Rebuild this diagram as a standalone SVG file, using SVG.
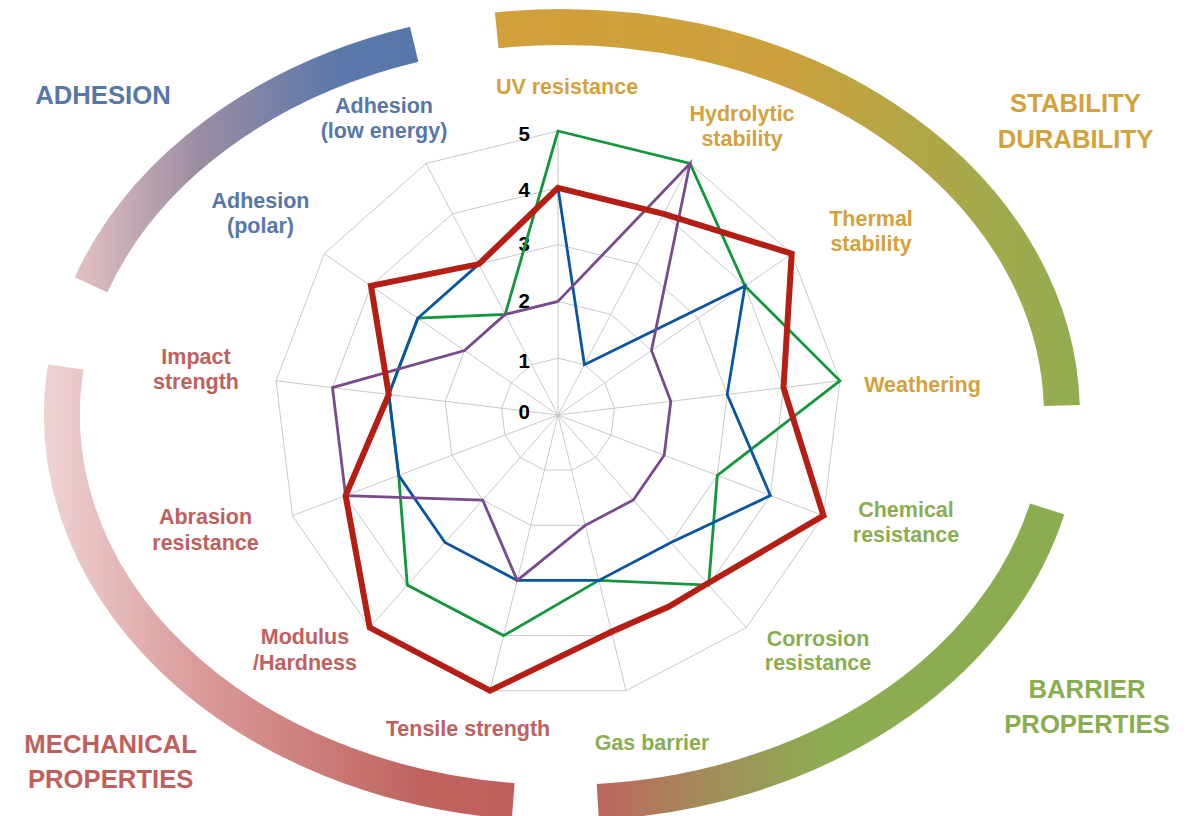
<svg xmlns="http://www.w3.org/2000/svg" width="1195" height="816" viewBox="0 0 1195 816">
<defs>
<style>
text{font-family:"Liberation Sans",Arial,sans-serif;font-weight:bold;}
.lab{font-size:21.5px;text-anchor:middle;}
.cat{font-size:25.7px;text-anchor:middle;}
.tick{font-size:20.5px;text-anchor:end;fill:#000;}
.blue{fill:#5777a9;}
.gold{fill:#d4a23c;}
.green{fill:#8aad52;}
.red{fill:#c0605e;}
.grid{fill:none;stroke:#c9c9c9;stroke-width:1;}
.arc{fill:none;stroke-width:36;stroke-linecap:butt;}
.s{fill:none;stroke-linejoin:miter;stroke-width:2.8;}
</style>
<linearGradient id="gAdh" gradientUnits="userSpaceOnUse" x1="72" y1="0" x2="420" y2="0">
<stop offset="0" stop-color="#e6c3c3"/>
<stop offset="0.37" stop-color="#9b8ca3"/>
<stop offset="0.74" stop-color="#5d79ab"/>
<stop offset="1" stop-color="#5677aa"/>
</linearGradient>
<linearGradient id="gStab" gradientUnits="userSpaceOnUse" x1="494" y1="0" x2="1080" y2="0">
<stop offset="0" stop-color="#d1a03a"/>
<stop offset="0.49" stop-color="#cca13c"/>
<stop offset="1" stop-color="#91ad52"/>
</linearGradient>
<linearGradient id="gBar" gradientUnits="userSpaceOnUse" x1="597" y1="0" x2="1065" y2="0">
<stop offset="0" stop-color="#bd655d"/>
<stop offset="0.22" stop-color="#a58a5a"/>
<stop offset="0.48" stop-color="#8cac52"/>
<stop offset="1" stop-color="#8aad50"/>
</linearGradient>
<linearGradient id="gMech" gradientUnits="userSpaceOnUse" x1="47" y1="0" x2="530" y2="0">
<stop offset="0" stop-color="#eed2d2"/>
<stop offset="0.32" stop-color="#d99a98"/>
<stop offset="0.77" stop-color="#c0635f"/>
<stop offset="1" stop-color="#bf5f5b"/>
</linearGradient>
</defs>
<rect width="1195" height="816" fill="#ffffff"/>

<g id="arcs">
<path id="arc-adhesion" class="arc" stroke="url(#gAdh)" d="M 91.0 284.8 A 500 388 0 0 1 414.2 44.3"/>
<path id="arc-stability" class="arc" stroke="url(#gStab)" d="M 496.7 30.3 A 500 388 0 0 1 1061.8 405.5"/>
<path id="arc-barrier" class="arc" stroke="url(#gBar)" d="M 1047.1 508.9 A 500 388 0 0 1 597.8 802.0"/>
<path id="arc-mechanical" class="arc" stroke="url(#gMech)" d="M 513.2 801.1 A 500 388 0 0 1 65.8 367.0"/>
</g>

<g id="grid">
<polygon class="grid" points="558,358.2 584.4,364.7 604.7,382.7 614.4,408.2 611.1,435.1 595.7,457.5 571.6,470.1 544.4,470.1 520.3,457.5 504.9,435.1 501.6,408.2 511.3,382.7 531.6,364.7"/>
<polygon class="grid" points="558,301.4 610.8,314.4 651.5,350.5 670.8,401.3 664.2,455.3 633.3,500.0 585.2,525.3 530.8,525.3 482.7,500.0 451.8,455.3 445.2,401.3 464.5,350.5 505.2,314.4"/>
<polygon class="grid" points="558,244.6 637.2,264.1 698.2,318.2 727.2,394.5 717.3,475.4 671.0,542.5 598.8,580.4 517.2,580.4 445.0,542.5 398.7,475.4 388.8,394.5 417.8,318.2 478.8,264.1"/>
<polygon class="grid" points="558,187.8 663.6,213.8 745.0,285.9 783.5,387.6 770.4,495.6 708.7,585.1 612.4,635.6 503.6,635.6 407.3,585.1 345.6,495.6 332.5,387.6 371.0,285.9 452.4,213.8"/>
<polygon class="grid" points="558,131.0 690.0,163.5 791.7,253.7 839.9,380.8 823.5,515.7 746.3,627.6 626.0,690.7 490.0,690.7 369.7,627.6 292.5,515.7 276.1,380.8 324.3,253.7 426.0,163.5"/>
<path class="grid" d="M558 415L558 131.0M558 415L690.0 163.5M558 415L791.7 253.7M558 415L839.9 380.8M558 415L823.5 515.7M558 415L746.3 627.6M558 415L626.0 690.7M558 415L490.0 690.7M558 415L369.7 627.6M558 415L292.5 515.7M558 415L276.1 380.8M558 415L324.3 253.7M558 415L426.0 163.5"/>
</g>

<g id="ticks">
<text class="tick" x="530" y="419">0</text>
<text class="tick" x="530" y="368">1</text>
<text class="tick" x="530" y="308">2</text>
<text class="tick" x="530" y="251">3</text>
<text class="tick" x="530" y="197">4</text>
<text class="tick" x="530" y="141">5</text>
</g>

<g id="series">
<polygon id="series-green" class="s" stroke="#13963c" points="558,131.0 690.0,163.5 745.0,285.9 839.9,380.8 717.3,475.4 708.7,585.1 598.8,580.4 503.6,635.6 407.3,585.1 398.7,475.4 388.8,394.5 417.8,318.2 505.2,314.4"/>
<polygon id="series-blue" class="s" stroke="#0a55a0" points="558,187.8 584.4,364.7 745.0,285.9 727.2,394.5 770.4,495.6 671.0,542.5 598.8,580.4 517.2,580.4 445.0,542.5 398.7,475.4 388.8,394.5 417.8,318.2 478.8,264.1"/>
<polygon id="series-purple" class="s" stroke="#784b8c" points="558,301.4 690.0,163.5 651.5,350.5 670.8,401.3 664.2,455.3 633.3,500.0 585.2,525.3 517.2,580.4 482.7,500.0 345.6,495.6 332.5,387.6 464.5,350.5 505.2,314.4"/>
<polygon id="series-red" class="s" stroke="#b41e14" style="stroke-width:6" points="558,187.8 663.6,213.8 791.7,253.7 783.5,387.6 823.5,515.7 707.5,583.5 669,606.5 612,631.5 490.0,690.7 369.7,627.6 345.6,495.6 388.8,394.5 371.0,285.9 478.8,264.1"/>
</g>

<g id="axis-labels">
<g id="lbl-uv"><text class="lab gold" x="567" y="94">UV resistance</text></g>
<g id="lbl-hydro"><text class="lab gold" x="742" y="120.5">Hydrolytic</text><text class="lab gold" x="742" y="146">stability</text></g>
<g id="lbl-thermal"><text class="lab gold" x="871" y="225.5">Thermal</text><text class="lab gold" x="871" y="250.5">stability</text></g>
<g id="lbl-weather"><text class="lab gold" x="922.5" y="392">Weathering</text></g>
<g id="lbl-chem"><text class="lab green" x="906" y="516.5">Chemical</text><text class="lab green" x="906" y="541.5">resistance</text></g>
<g id="lbl-corr"><text class="lab green" x="818" y="645.5">Corrosion</text><text class="lab green" x="818" y="670">resistance</text></g>
<g id="lbl-gas"><text class="lab green" x="652" y="750">Gas barrier</text></g>
<g id="lbl-tensile"><text class="lab red" x="468" y="736">Tensile strength</text></g>
<g id="lbl-modulus"><text class="lab red" x="305" y="644">Modulus</text><text class="lab red" x="305" y="670">/Hardness</text></g>
<g id="lbl-abrasion"><text class="lab red" x="205.5" y="524">Abrasion</text><text class="lab red" x="205.5" y="550">resistance</text></g>
<g id="lbl-impact"><text class="lab red" x="196" y="363.5">Impact</text><text class="lab red" x="196" y="388.5">strength</text></g>
<g id="lbl-adh-polar"><text class="lab blue" x="260.5" y="208.3">Adhesion</text><text class="lab blue" x="260.5" y="233.3">(polar)</text></g>
<g id="lbl-adh-low"><text class="lab blue" x="384" y="112.7">Adhesion</text><text class="lab blue" x="384" y="137.5">(low energy)</text></g>
</g>

<g id="category-labels">
<g id="cat-adhesion"><text class="cat blue" x="103" y="104">ADHESION</text></g>
<g id="cat-stability"><text class="cat gold" x="1075.5" y="111.5">STABILITY</text><text class="cat gold" x="1075.5" y="148">DURABILITY</text></g>
<g id="cat-barrier"><text class="cat green" x="1087" y="698">BARRIER</text><text class="cat green" x="1087" y="733">PROPERTIES</text></g>
<g id="cat-mechanical"><text class="cat red" x="110.7" y="753">MECHANICAL</text><text class="cat red" x="110.7" y="788">PROPERTIES</text></g>
</g>
</svg>
